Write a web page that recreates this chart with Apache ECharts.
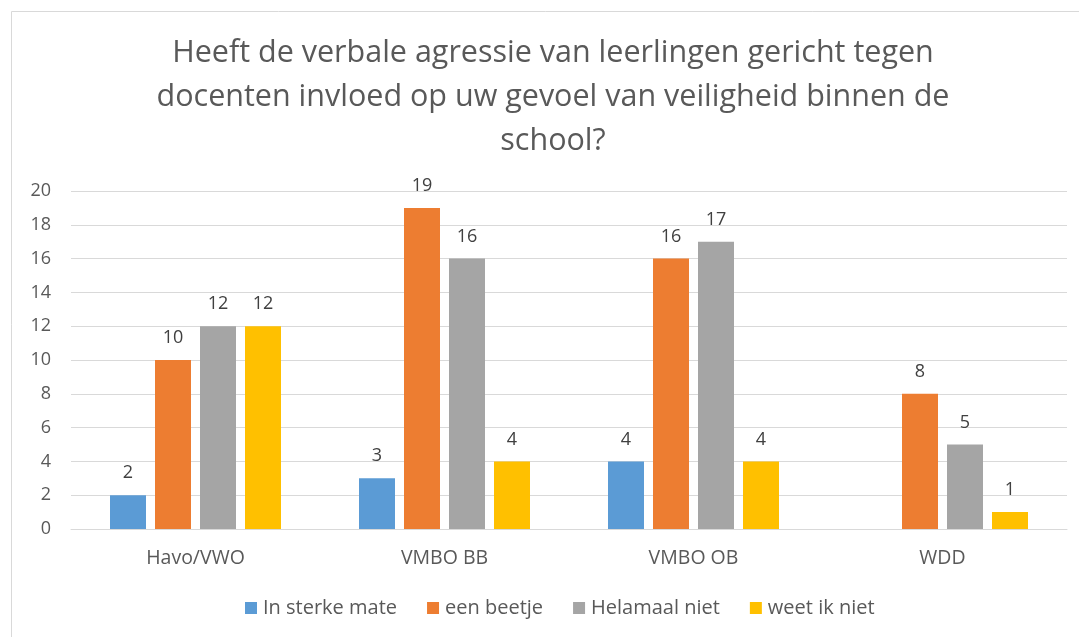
<!DOCTYPE html>
<html>
<head>
<meta charset="utf-8">
<script src="https://cdn.jsdelivr.net/npm/echarts@6/dist/echarts.min.js"></script>
<style>
  html, body { margin: 0; padding: 0; background: #fff; }
  #chart { width: 1079px; height: 637px; }
</style>
</head>
<body>
<div id="chart"></div>
<script>
// categories + series values
var categories = ['Havo/VWO', 'VMBO BB', 'VMBO OB', 'WDD']
var inSterkeMate = [2, 3, 4, null]
var eenBeetje = [10, 19, 16, 8]
var helamaalNiet = [12, 16, 17, 5]
var weetIkNiet = [12, 4, 4, 1]
var seriesNames = ['In sterke mate', 'een beetje', 'Helamaal niet', 'weet ik niet']
var colors = ['#5B9BD5', '#ED7D31', '#A5A5A5', '#FFC000']

var font = 'Open Sans'
var textColor = '#595959'

var chart = echarts.init(document.getElementById('chart'))

function barSeries(name, data, color) {
  return {
    name: name,
    type: 'bar',
    data: data,
    barWidth: 36,
    barGap: '25%',
    itemStyle: { color: color },
    label: {
      show: true,
      position: 'top',
      distance: 13,
      color: '#404040',
      fontFamily: font,
      fontSize: 18
    }
  }
}

chart.setOption({
  animation: false,
  color: colors,
  graphic: [{
    type: 'rect',
    shape: { x: 11.5, y: 11.5, width: 1090, height: 650 },
    style: { fill: 'none', stroke: '#D9D9D9', lineWidth: 1 },
    silent: true
  }],
  title: {
    text: 'Heeft de verbale agressie van leerlingen gericht tegen\ndocenten invloed op uw gevoel van veiligheid binnen de\nschool?',
    left: 553,
    textAlign: 'center',
    top: 31,
    padding: 0,
    textStyle: {
      fontFamily: font,
      fontSize: 30.5,
      fontWeight: 'normal',
      color: textColor,
      lineHeight: 44
    }
  },
  legend: {
    data: seriesNames,
    top: 598,
    left: 245,
    padding: 0,
    itemWidth: 12,
    itemHeight: 12,
    itemGap: 30,
    icon: 'rect',
    textStyle: { fontFamily: font, fontSize: 20, color: textColor, padding: [0, 0, 0, 1] }
  },
  grid: {
    left: 71,
    right: 12,
    top: 191,
    bottom: 108,
    containLabel: false
  },
  xAxis: {
    type: 'category',
    data: categories,
    axisLine: { lineStyle: { color: '#D9D9D9' } },
    axisTick: { show: false },
    axisLabel: { fontFamily: font, fontSize: 19.5, color: textColor, margin: 19 }
  },
  yAxis: {
    type: 'value',
    min: 0,
    max: 20,
    interval: 2,
    axisLine: { show: false },
    axisTick: { show: false },
    axisLabel: { fontFamily: font, fontSize: 18, color: textColor, margin: 20 },
    splitLine: { lineStyle: { color: '#D9D9D9' } }
  },
  series: [
    barSeries(seriesNames[0], inSterkeMate, colors[0]),
    barSeries(seriesNames[1], eenBeetje, colors[1]),
    barSeries(seriesNames[2], helamaalNiet, colors[2]),
    barSeries(seriesNames[3], weetIkNiet, colors[3])
  ]
})
</script>
</body>
</html>
